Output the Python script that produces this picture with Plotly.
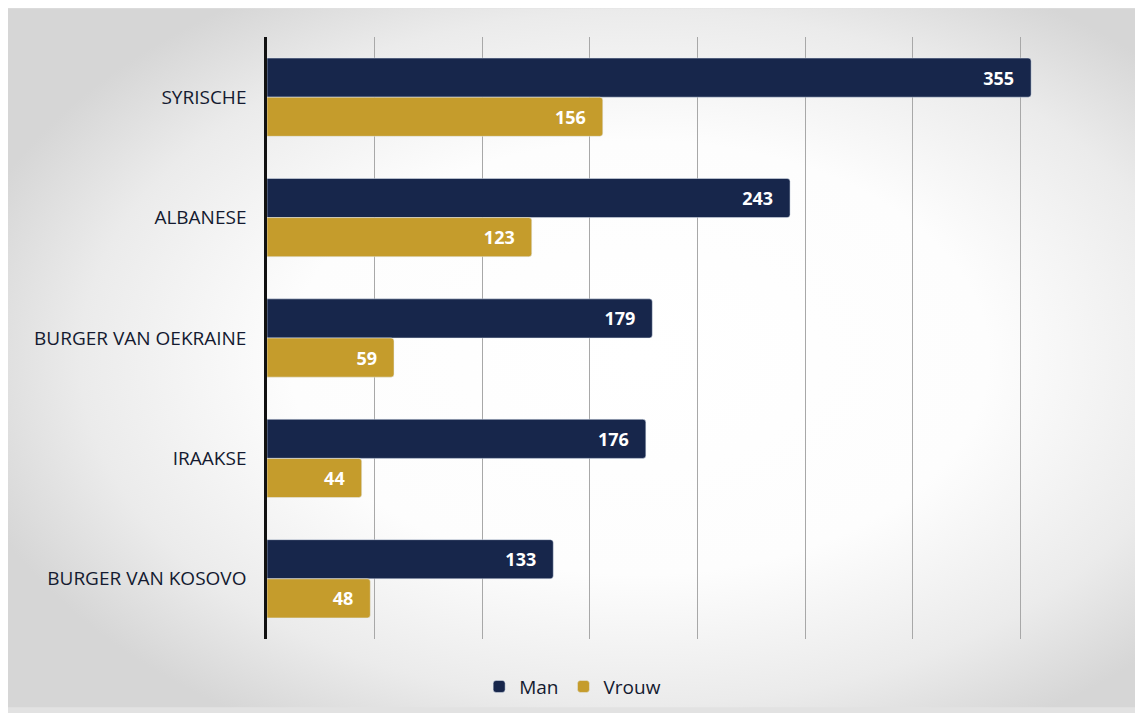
import base64
import plotly.graph_objects as go

categories = ["SYRISCHE", "ALBANESE", "BURGER VAN OEKRAINE", "IRAAKSE", "BURGER VAN KOSOVO"]
man = [355, 243, 179, 176, 133]
vrouw = [156, 123, 59, 44, 48]

navy = "#17264b"
gold = "#c59c2c"
pad = "\u00a0\u00a0\u00a0"

W, H = 1127, 705
L, R, T, B = 259, 7, 29, 69
pw, ph = W - L - R, H - T - B

svg = (
    '<svg xmlns="http://www.w3.org/2000/svg" width="400" height="250" preserveAspectRatio="none" viewBox="0 0 400 250">'
    '<defs><radialGradient id="g" cx="0.56" cy="0.5" r="0.62">'
    '<stop offset="0" stop-color="#ffffff"/>'
    '<stop offset="0.5" stop-color="#fdfdfd"/>'
    '<stop offset="0.8" stop-color="#ebebeb"/>'
    '<stop offset="1" stop-color="#d6d6d6"/>'
    '</radialGradient></defs>'
    '<rect width="400" height="250" fill="url(#g)"/></svg>'
)
bg_src = "data:image/svg+xml;base64," + base64.b64encode(svg.encode()).decode()

fig = go.Figure()
fig.add_trace(go.Bar(
    y=categories, x=man, orientation="h", name="Man",
    marker=dict(color=navy), text=[str(v) + pad for v in man],
    textposition="inside", insidetextanchor="end",
    textfont=dict(color="white", size=18, family="Open Sans", weight="bold"),
))
fig.add_trace(go.Bar(
    y=categories, x=vrouw, orientation="h", name="Vrouw",
    marker=dict(color=gold), text=[str(v) + pad for v in vrouw],
    textposition="inside", insidetextanchor="end",
    textfont=dict(color="white", size=18, family="Open Sans", weight="bold"),
))

fig.update_layout(
    width=W, height=H,
    margin=dict(l=L, r=R, t=T, b=B),
    barmode="group", bargap=0.35, bargroupgap=0.0,
    barcornerradius=3,
    paper_bgcolor="#e2e2e2", plot_bgcolor="rgba(0,0,0,0)",
    font=dict(family="Open Sans", color="#141a30", size=19),
    showlegend=True,
    legend=dict(orientation="h", x=0.355, xanchor="center", y=-48 / ph, yanchor="middle",
                font=dict(size=19, color="#141a30"), bgcolor="rgba(0,0,0,0)",
                itemwidth=30, traceorder="normal"),
    uniformtext=dict(mode="show", minsize=10),
    images=[dict(source=bg_src, xref="paper", yref="paper",
                 x=-L / pw, y=1 + T / ph, sizex=W / pw, sizey=H / ph,
                 xanchor="left", yanchor="top", sizing="stretch", layer="below")],
)
fig.update_xaxes(range=[0, 400], dtick=50, showgrid=True, gridcolor="#a8a8a8", gridwidth=1,
                 showticklabels=False, zeroline=False, showline=False, ticks="")
fig.update_yaxes(autorange="reversed", showline=True, linecolor="#111111", linewidth=2.5,
                 ticks="", ticklabelstandoff=14, showgrid=False,
                 tickfont=dict(size=19, color="#141a30"))

fig.write_html("out.html")
